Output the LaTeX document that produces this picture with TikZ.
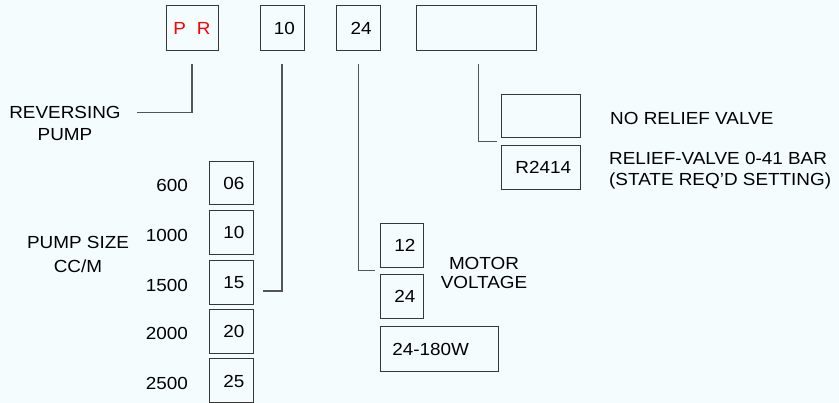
\documentclass[tikz,border=0pt]{standalone}
\usepackage{fontspec}
\setmainfont[FakeStretch=1.08]{Liberation Sans}
\usetikzlibrary{calc}
\definecolor{bg}{RGB}{244,252,254}
\definecolor{boxc}{RGB}{55,55,55}
\definecolor{linec}{RGB}{85,85,85}
\definecolor{prred}{RGB}{255,0,0}
\begin{document}
\begin{tikzpicture}[x=1pt,y=-1pt,
 box/.style={draw=boxc,line width=1pt,inner sep=0pt,minimum height=44pt,font=\fontsize{17.5}{21}\selectfont},
 numbox/.style={box,minimum width=44pt,execute at begin node=\hspace{5pt}},
 conn/.style={draw=linec,line width=1.1pt},
 lbl/.style={inner sep=0pt,font=\fontsize{17.5}{21}\selectfont,text=black},
]
\fill[bg] (0,0) rectangle (839,403);
\useasboundingbox (0,0) rectangle (839,403);

% top code boxes
\node[box,minimum width=52pt,minimum height=45pt,text=prred] (pr) at (192,28.5) {P\hspace{11pt}R};
\node[numbox,minimum height=45pt] (b10) at (282,28.5) {10};
\node[numbox,minimum height=45pt] (b24) at (358.7,28.5) {24};
\node[box,minimum width=120pt,minimum height=45pt] (bopt) at (476.7,28.5) {};

% relief valve boxes
\node[box,minimum width=79pt,minimum height=43.4pt] (nrv) at (541.2,116) {};
\node[box,minimum width=79pt,minimum height=43.6pt,execute at begin node=\hspace{4pt}] (r2414) at (541.2,167.5) {R2414};

% pump size boxes
\node[numbox,minimum height=43.4pt] (s06) at (231.3,183.3) {06};
\node[numbox,minimum height=43.6pt] (s10) at (231.3,232.5) {10};
\node[numbox,minimum height=44pt] (s15) at (231.3,282.2) {15};
\node[numbox,minimum height=44pt] (s20) at (231.3,331.3) {20};
\node[numbox,minimum height=44pt] (s25) at (231.3,381) {25};

% motor voltage boxes
\node[numbox,minimum width=43.3pt] (m12) at (402.3,245.3) {12};
\node[numbox,minimum width=43.3pt] (m24) at (402.3,296.3) {24};
\node[box,minimum width=117.6pt,minimum height=45pt,text width=94.4pt,inner xsep=11.6pt,align=left] (m180) at (439.5,349.2) {24-180W};

% labels
\node[lbl,align=center,font=\fontsize{17.5}{21.3}\selectfont] (rev) at (65,123.5) {REVERSING\\PUMP};
\node[lbl,align=center,font=\fontsize{17.5}{24}\selectfont] (psize) at (78,254.7) {PUMP SIZE\\CC/M};
\node[lbl,anchor=east] (l600) at (188,185.7) {600};
\node[lbl,anchor=east] (l1000) at (188,235) {1000};
\node[lbl,anchor=east] (l1500) at (188,285) {1500};
\node[lbl,anchor=east] (l2000) at (188,333) {2000};
\node[lbl,anchor=east] (l2500) at (188,383) {2500};
\node[lbl,align=center,font=\fontsize{17.5}{19.4}\selectfont] (mv) at (484,273) {MOTOR\\VOLTAGE};
\node[lbl,anchor=west] (lnrv) at (610,118) {NO RELIEF VALVE};
\node[lbl,anchor=west,align=left] (lrv) at (609,171.2) {RELIEF-VALVE 0-41 BAR\\(STATE REQ'D SETTING)};

% connector ends
\coordinate (crev) at (136.7,112.7);
\coordinate (c15) at (263,291);
\coordinate (c12) at (375,270.7);
\coordinate (cnrv) at (496.7,141.7);

% connectors
\draw[conn] ([yshift=-13pt]pr.south) |- (crev);
\draw[conn] ([yshift=-13pt]b10.south) |- (c15);
\draw[conn] ([yshift=-13pt]b24.south) |- (c12);
\draw[conn] ([xshift=1.6pt,yshift=-13pt]bopt.south) |- (cnrv);
\end{tikzpicture}
\end{document}
